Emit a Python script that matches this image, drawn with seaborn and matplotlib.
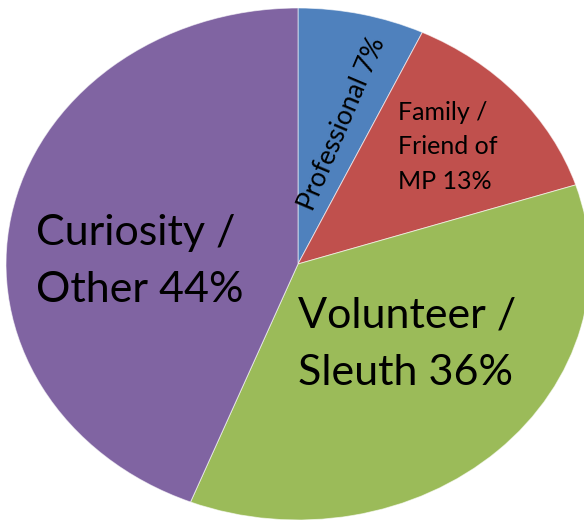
import matplotlib
matplotlib.use("Agg")
import matplotlib.pyplot as plt
import seaborn as sns

sns.set_style("white")
plt.rcParams["font.family"] = ["Lato", "DejaVu Sans"]

# data
categories = ["Professional", "Family /\nFriend of\nMP", "Volunteer /\nSleuth", "Curiosity /\nOther"]
shares = [7, 13, 36, 44]
colors = sns.color_palette(["#4F81BD", "#C0504D", "#9BBB59", "#8064A2"])

fig = plt.figure(figsize=(5.84, 5.20), dpi=100)
ax = fig.add_axes([0, 0, 1, 1])

wedges, _ = ax.pie(shares, colors=colors, startangle=90, counterclock=False,
                   wedgeprops=dict(edgecolor=(1, 1, 1, 0.6), linewidth=0.7))

# the pie in the original is stretched a little sideways and runs off the canvas
ax.set_aspect("auto")
ax.set_xlim(-298 / 292, 286 / 292)
ax.set_ylim(-256 / 256, 264 / 256)
ax.axis("off")


def px(x, y):
    # pixel position (from top-left) -> data coords
    return (x - 298) / 292, (264 - y) / 256


labels = [f"{c} {s}%" for c, s in zip(categories, shares)]

x, y = px(342, 124)
ax.text(x, y, labels[0], rotation=67, ha="center", va="center",
        rotation_mode="anchor", fontsize=19, color="black")

x, y = px(398, 101)
ax.text(x, y, labels[1], ha="left", va="top", fontsize=18, linespacing=1.6,
        color="black")

x, y = px(298, 297)
ax.text(x, y, labels[2], ha="left", va="top", fontsize=31, linespacing=1.6,
        color="black")

x, y = px(36, 214)
ax.text(x, y, labels[3], ha="left", va="top", fontsize=31, linespacing=1.6,
        color="black")

fig.savefig("out.png", dpi=100)
